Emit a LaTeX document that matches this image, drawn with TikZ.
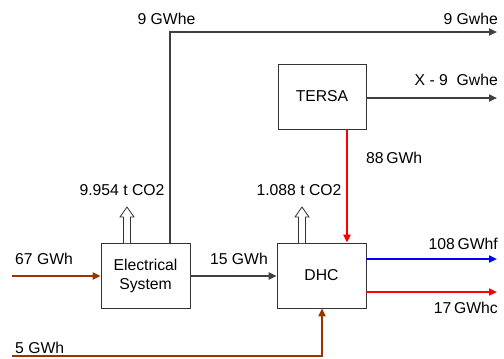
\documentclass[tikz,border=0pt]{standalone}
\usepackage{fontspec}
\setmainfont{Liberation Sans}
\usetikzlibrary{arrows.meta,calc}
\definecolor{brownline}{HTML}{993300}
\definecolor{grayline}{HTML}{404040}
\begin{document}
\begin{tikzpicture}[x=1bp,y=-1bp,
  font=\fontsize{15.8}{19}\selectfont,
  box/.style={draw=black!80,line width=0.8bp,minimum width=89bp,minimum height=65bp,inner sep=0pt,align=center},
  lbl/.style={inner sep=0pt},
  flow/.style={line width=2bp,-{Triangle[length=8bp,width=7bp]}},
  plain/.style={line width=2bp},
  hollow/.style={draw=black!80,line width=0.8bp,fill=white}]
\useasboundingbox (0,0) rectangle (504,358);
% boxes
\node[box] (ES) at (145.5,275.5) {Electrical\\System};
\node[box] (DHC) at (321.5,275.5) {DHC};
\node[box,minimum width=88bp] (TERSA) at (322,96.5) {TERSA};
% free ends
\coordinate (in67) at (12,276);
\coordinate (in5) at (12,356);
\coordinate (bend5) at (322,356);
\coordinate (top) at (170,32);
\coordinate (outtop) at (497,32);
\coordinate (outtersa) at (497,98);
\coordinate (out108) at (497,259);
\coordinate (out17) at (497,292);
\coordinate (co1) at (127,243);
\coordinate (co2) at (302,243);
% connectors
\draw[flow,brownline] (in67) -- (ES.west |- in67);
\draw[flow,grayline] (ES.east |- in67) -- (DHC.west |- in67);
\draw[flow,grayline] (ES.north -| top) -- (top) -- (outtop);
\draw[flow,grayline] (TERSA.east |- outtersa) -- (outtersa);
\draw[flow,red] (TERSA.south -| 347,0) -- (DHC.north -| 347,0);
\draw[flow,blue] (DHC.east |- out108) -- (out108);
\draw[flow,red] (DHC.east |- out17) -- (out17);
\draw[flow,brownline] (in5) -- (bend5) -- (DHC.south -| bend5);
% CO2 arrows
\draw[hollow] (co1) ++(-3.5,0) -- ++(0,-26) -- ++(-3.5,0) -- ++(7,-10) -- ++(7,10) -- ++(-3.5,0) -- ++(0,26);
\draw[hollow] (co2) ++(-3.5,0) -- ++(0,-26) -- ++(-3.5,0) -- ++(7,-10) -- ++(7,10) -- ++(-3.5,0) -- ++(0,26);
% labels
\node[lbl] (l1) at (166.5,19) {9 GWhe};
\node[lbl,anchor=east] (l2) at (498,19) {9 Gwhe};
\node[lbl,anchor=east] (l3) at (498,80) {X - 9\ \ Gwhe};
\node[lbl,anchor=west] (l4) at (15,259) {67 GWh};
\node[lbl,anchor=west] (l5) at (15,348) {5 GWh};
\node[lbl] (l6) at (239,259) {15 GWh};
\node[lbl] (l7) at (122,190) {9.954 t CO2};
\node[lbl] (l8) at (299,190) {1.088 t CO2};
\node[lbl,anchor=west] (l9) at (366,158) {88\,GWh};
\node[lbl,anchor=east] (l10) at (498,244) {108\,GWhf};
\node[lbl,anchor=east] (l11) at (498,308) {17\,GWhc};
\end{tikzpicture}
\end{document}
